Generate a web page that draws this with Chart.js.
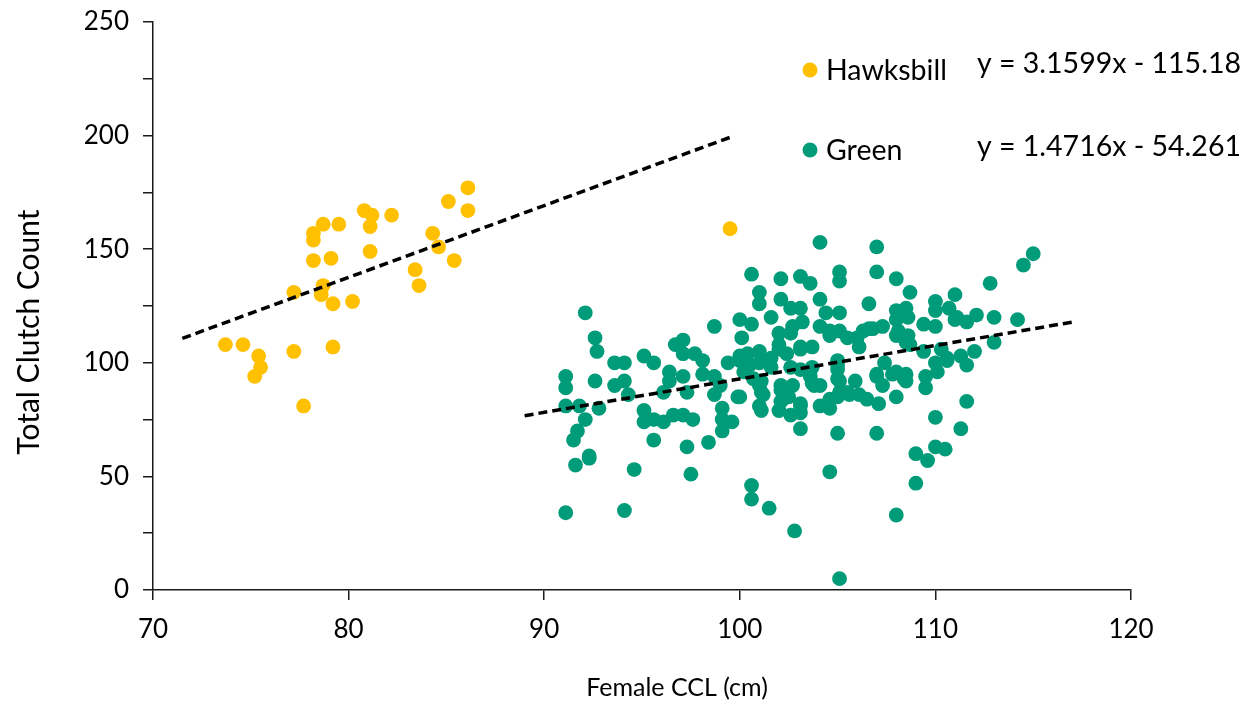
<!DOCTYPE html>
<html>
<head>
<meta charset="utf-8">
<title>Clutch count vs female CCL</title>
<script src="https://cdn.jsdelivr.net/npm/chart.js@4.4.1/dist/chart.umd.min.js"></script>
<style>
  html, body { margin: 0; padding: 0; background: #ffffff; }
  #wrap { width: 1250px; height: 704px; position: relative; }
</style>
</head>
<body>
<div id="wrap"><canvas id="chart" width="1250" height="704"></canvas></div>
<script>
// Hawksbill nesting females: curved carapace length (cm) and total clutch count
const hawksbillCCL = [
  86.1, 85.1, 86.1, 80.8, 81.2, 82.2, 81.1, 78.7, 79.5, 78.2, 78.2,
  84.3, 84.6, 81.1, 78.2, 79.1, 85.4, 83.4, 83.6, 78.7, 78.6, 77.2,
  79.2, 80.2, 73.7, 74.6, 75.4, 75.5, 75.2, 77.2, 79.2, 77.7, 99.5
];
const hawksbillClutch = [
  177, 171, 167, 167, 165, 165, 160, 161, 161, 157, 154,
  157, 151, 149, 145, 146, 145, 141, 134, 134, 130, 131,
  126, 127, 108, 108, 103, 98, 94, 105, 107, 81, 159
];

// Green nesting females
const greenCCL = [
  91.1, 91.1, 91.1, 91.1, 91.5, 91.6, 91.7, 91.8, 92.1, 92.1, 92.3, 92.3,
  92.6, 92.7, 92.6, 92.8, 93.6, 93.6, 94.1, 94.1, 94.3, 94.1, 94.6, 95.1,
  95.6, 95.1, 95.1, 95.6, 95.6, 96.1, 96.1, 96.4, 96.4, 96.6, 96.7, 97.1,
  97.1, 97.1, 97.1, 97.3, 97.3, 97.5, 97.6, 97.7, 98.1, 98.1, 98.4, 98.7,
  98.7, 98.7, 99.0, 99.1, 99.1, 99.1, 99.4, 99.6, 99.9,
  100.0, 100.0, 100.1, 100.0, 100.0, 100.4, 100.6, 100.6, 100.5, 100.2, 100.7,
  100.6, 100.6, 101.0, 101.0, 101.0, 101.0, 101.0, 101.1, 101.1, 101.1, 101.0,
  101.2, 101.6, 101.6, 101.6, 101.5, 102.1, 102.1, 102.0, 102.0, 102.0, 102.1,
  102.1, 102.1, 102.0, 102.4, 102.6, 102.7, 102.6, 102.6, 102.7, 102.5, 102.2,
  102.6, 102.8, 103.1, 103.1, 103.2, 103.1, 103.1, 103.1, 103.1, 103.1, 103.1,
  103.1, 103.6, 103.7, 103.7, 103.6, 103.7, 103.8, 104.1, 104.1, 104.1, 104.4,
  104.1, 104.1, 104.5, 104.6, 104.6, 104.6, 104.6, 104.6, 105.0, 105.0, 105.0,
  105.0, 105.1, 105.1, 105.1, 105.1, 105.1, 105.0, 105.1, 105.0, 105.1, 105.5,
  105.5, 105.6, 105.9, 106.0, 106.1, 106.1, 106.3, 106.5, 106.6, 106.6, 106.8,
  107.0, 107.0, 107.0, 107.0, 107.1, 107.0, 107.3, 107.3, 107.4, 107.8, 108.0,
  108.0, 108.0, 108.0, 108.0, 108.0, 108.0, 108.1, 108.4, 108.5, 108.5, 108.5,
  108.5, 108.6, 108.6, 108.7, 108.7, 109.0, 109.0, 109.4, 109.4, 109.5, 109.5,
  109.6, 110.0, 110.0, 110.0, 110.0, 110.0, 110.0, 110.1, 110.3, 110.6, 110.6,
  110.5, 110.7, 111.0, 111.0, 111.1, 111.3, 111.3, 111.6, 111.6, 111.6, 112.0,
  112.1, 112.8, 113.0, 113.0, 114.2, 114.5, 115.0
];
const greenClutch = [
  94, 89, 81, 34, 66, 55, 70, 81, 75, 122, 59, 58,
  111, 105, 92, 80, 100, 90, 100, 92, 86, 35, 53, 103,
  100, 79, 74, 75, 66, 74, 87, 96, 92, 77, 108, 110,
  104, 94, 77, 87, 63, 51, 75, 104, 101, 95, 65, 116,
  94, 86, 90, 80, 75, 70, 100, 74, 85,
  119, 103, 111, 101, 85, 104, 139, 117, 99, 96, 93,
  46, 40, 131, 126, 105, 100, 90, 92, 87, 79, 81,
  86, 120, 102, 98, 36, 137, 128, 113, 108, 106, 90,
  88, 83, 79, 104, 124, 116, 113, 98, 90, 85, 84,
  77, 26, 138, 124, 118, 107, 106, 97, 82, 81, 78,
  71, 135, 107, 98, 94, 91, 90, 153, 128, 116, 122,
  90, 81, 82, 80, 114, 112, 84, 52, 101, 99, 97,
  93, 140, 136, 122, 114, 92, 85, 87, 69, 5, 111,
  87, 86, 92, 111, 107, 86, 114, 84, 126, 115, 115,
  151, 140, 95, 94, 82, 69, 116, 90, 100, 95, 137,
  123, 119, 112, 96, 85, 33, 114, 93, 124, 95, 92,
  109, 120, 112, 131, 108, 60, 47, 117, 105, 94, 89,
  57, 127, 123, 116, 100, 76, 63, 96, 106, 102, 101,
  62, 124, 130, 119, 120, 103, 71, 118, 99, 83, 105,
  121, 135, 120, 109, 119, 143, 148
];

// Linear fits shown on the chart (slope, intercept) and the CCL span each line covers
const seriesNames = ['Hawksbill', 'Green'];
const seriesColors = ['#FFC000', '#009B78'];
const fitSlopes = [3.1599, 1.4716];
const fitIntercepts = [-115.18, -54.261];
const fitStart = [71.5, 89.0];
const fitEnd = [99.7, 117.0];

// Axis ticks
const xTicks = [70, 80, 90, 100, 110, 120];
const yLabelTicks = [0, 50, 100, 150, 200, 250];

const toPoints = (xs, ys) => xs.map((x, i) => ({ x: x, y: ys[i] }));
const fitLine = (k) => [fitStart[k], fitEnd[k]].map(x => ({ x: x, y: fitSlopes[k] * x + fitIntercepts[k] }));
const fmt = (v) => (v < 0 ? ' - ' : ' + ') + Math.abs(v);
const equationText = (k) => 'y = ' + fitSlopes[k] + 'x' + fmt(fitIntercepts[k]);

const FONT = 'Lato, "Open Sans", "DejaVu Sans", sans-serif';
const AXIS_COLOR = '#1a1a1a';

// Left/top/right/bottom edges of the plotting area
const AREA = { left: 153, top: 22, right: 1131, bottom: 590 };

const fitDataset = (k) => ({
  type: 'line',
  label: seriesNames[k] + ' fit',
  data: fitLine(k),
  borderColor: '#000000',
  borderWidth: 3.5,
  borderDash: [9, 5],
  borderCapStyle: 'butt',
  pointRadius: 0,
  fill: false,
  order: 0,
  clip: false
});

const pointDataset = (k, xs, ys) => ({
  type: 'scatter',
  label: seriesNames[k],
  data: toPoints(xs, ys),
  backgroundColor: seriesColors[k],
  borderWidth: 0,
  pointRadius: 7.4,
  pointHoverRadius: 7.4,
  order: 1,
  clip: false
});

// Axis titles, legend and equations drawn on the canvas
const decorations = {
  id: 'decorations',
  afterDraw(chart) {
    const ctx = chart.ctx;
    ctx.save();
    ctx.fillStyle = '#000000';
    ctx.textBaseline = 'middle';

    // x title
    ctx.font = '25px ' + FONT;
    ctx.textAlign = 'center';
    ctx.fillText('Female CCL (cm)', 677, 688);

    // y title
    ctx.save();
    ctx.font = '30px ' + FONT;
    ctx.translate(29, 332);
    ctx.rotate(-Math.PI / 2);
    ctx.fillText('Total Clutch Count', 0, 0);
    ctx.restore();

    // legend entries
    ctx.font = '28.5px ' + FONT;
    const legendRows = [70, 150];
    ctx.textAlign = 'left';
    seriesNames.forEach((name, k) => {
      const y = legendRows[k];
      ctx.beginPath();
      ctx.fillStyle = seriesColors[k];
      ctx.arc(810, y, 7.5, 0, Math.PI * 2);
      ctx.fill();
      ctx.fillStyle = '#000000';
      ctx.fillText(name, 826, y + 1);
    });

    // fit equations
    const eqRows = [64, 147];
    seriesNames.forEach((name, k) => {
      ctx.fillText(equationText(k), 977, eqRows[k]);
    });
    ctx.restore();
  }
};

new Chart(document.getElementById('chart'), {
  data: {
    datasets: [
      fitDataset(0),
      fitDataset(1),
      pointDataset(0, hawksbillCCL, hawksbillClutch),
      pointDataset(1, greenCCL, greenClutch)
    ]
  },
  options: {
    responsive: false,
    animation: false,
    devicePixelRatio: 1,
    layout: {
      autoPadding: false,
      padding: { left: 0, top: AREA.top, right: 1250 - AREA.right, bottom: 0 }
    },
    plugins: {
      legend: { display: false },
      tooltip: { enabled: false },
      title: { display: false }
    },
    scales: {
      x: {
        type: 'linear',
        min: xTicks[0],
        max: xTicks[xTicks.length - 1],
        afterFit(scale) {
          scale.height = 704 - AREA.bottom;
          scale.paddingLeft = 0;
          scale.paddingRight = 0;
        },
        afterBuildTicks(scale) { scale.ticks = xTicks.map(v => ({ value: v })); },
        ticks: {
          color: '#000000',
          font: { family: FONT, size: 26 },
          padding: 14,
          maxRotation: 0,
          autoSkip: false
        },
        grid: {
          display: true,
          drawOnChartArea: false,
          drawTicks: true,
          tickLength: 10,
          color: AXIS_COLOR,
          lineWidth: 1.5
        },
        border: { display: true, color: AXIS_COLOR, width: 1.5 }
      },
      y: {
        type: 'linear',
        min: yLabelTicks[0],
        max: yLabelTicks[yLabelTicks.length - 1],
        afterFit(scale) {
          scale.width = AREA.left;
          scale.paddingTop = 0;
          scale.paddingBottom = 0;
        },
        ticks: {
          stepSize: 25,
          color: '#000000',
          font: { family: FONT, size: 26 },
          padding: 14,
          autoSkip: false,
          callback: (v) => (yLabelTicks.includes(v) ? String(v) : '')
        },
        grid: {
          display: true,
          drawOnChartArea: false,
          drawTicks: true,
          tickLength: 10,
          color: AXIS_COLOR,
          lineWidth: 1.5
        },
        border: { display: true, color: AXIS_COLOR, width: 1.5 }
      }
    }
  },
  plugins: [decorations]
});
</script>
</body>
</html>
